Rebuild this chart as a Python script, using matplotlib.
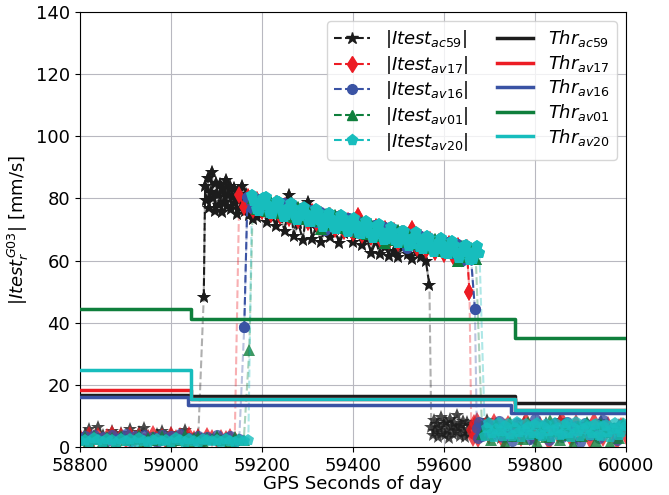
import numpy as np
import matplotlib.pyplot as plt
from matplotlib.lines import Line2D

# ---- |Itest| values, in segments: (start epoch [s], spacing [s], values) ----
ac59_low1 = [3.5, 4.2, 5.8, 3.1, 6.4, 4.0, 2.8, 5.1, 3.6, 4.4, 2.9, 5.7, 3.2, 4.8,
             6.1, 3.4, 2.6, 4.1, 5.2, 3.0, 4.6, 2.7, 3.9, 5.5, 3.3, 2.5, 3.8]
ac59_jump = [48.3]
ac59_burst = [84.0, 79.5, 86.5, 77.0, 82.0, 88.5, 80.0, 76.0, 85.0, 81.5, 78.0, 84.5,
              75.5, 83.0, 79.0, 86.0, 77.5, 81.0, 84.0, 76.5, 80.5, 83.5, 78.5, 75.0,
              82.5, 79.5, 77.0, 84.0, 80.0, 76.0, 81.5, 78.0, 74.5, 79.0, 76.5, 73.5]
ac59_high = [74.0, 78.5, 72.5, 76.0, 71.0, 74.5, 69.5, 81.0, 68.0, 72.0, 66.5, 79.0,
             67.0, 70.5, 66.0, 72.0, 67.5, 70.0, 65.5, 69.0, 71.0, 66.0, 68.5, 65.0,
             67.0, 62.5, 66.0, 62.0, 64.5, 61.5, 63.0, 61.0, 64.5, 62.0, 60.5, 63.0,
             61.0, 60.0]
ac59_drop = [52.0]
ac59_low2a = [6.5, 4.0, 8.7, 5.3, 7.5, 3.1, 6.0, 9.5, 4.5, 7.3, 3.7, 8.1, 5.5, 2.9,
              9.0, 6.7, 4.3, 7.7, 5.0, 10.2, 6.3, 3.5, 7.0, 8.5, 4.7, 3.3, 7.9, 5.8,
              4.1, 6.9]
ac59_low2b = [7.5, 3.1, 6.0, 8.6, 4.2, 5.4, 2.9, 7.0, 4.7, 6.2, 3.6, 8.2, 5.0, 2.4,
              6.8, 4.5, 7.6, 3.3, 5.9, 8.8, 4.0, 6.4, 2.7, 5.2, 4.9, 7.3, 3.9, 6.1,
              8.4, 4.6, 5.7, 3.4, 7.1, 5.0]
ac59_segs = [(58800, 10, ac59_low1), (59072, 10, ac59_jump), (59075, 3, ac59_burst),
             (59190, 10, ac59_high), (59568, 10, ac59_drop), (59572, 3, ac59_low2a),
             (59665, 10, ac59_low2b)]

av17_low1 = [3.2, 2.1, 4.0, 2.8, 3.6, 1.9, 3.1, 4.3, 2.5, 3.4, 2.2, 3.9, 2.7, 3.5,
             1.8, 3.0, 4.1, 2.4, 3.3, 2.0, 3.7, 2.9, 3.4, 2.3, 3.8, 2.6, 3.1, 1.9,
             3.5, 2.8, 2.2, 3.0, 2.5, 3.3, 2.1]
av17_high = [81.0, 77.1, 80.3, 76.4, 79.6, 75.8, 78.9, 75.1, 78.2, 74.4, 77.6, 73.7,
             76.9, 73.0, 76.2, 72.4, 75.5, 71.7, 74.8, 71.0, 74.2, 70.3, 73.5, 69.6,
             72.8, 69.0, 74.4, 68.3, 71.4, 67.6, 70.8, 66.9, 70.1, 66.2, 69.4, 65.6,
             68.7, 64.9, 70.3, 64.2, 67.4, 63.5, 66.7, 62.8, 66.0, 62.2, 65.3, 61.5,
             64.6, 60.8, 63.9]
av17_drop = [50.0]
av17_low2a = [5.5, 3.0, 7.8, 4.2, 8.5, 2.5, 6.5]
av17_low2b = [6.9, 3.5, 8.1, 5.2, 1.8, 7.4, 4.1, 6.0, 2.9, 8.5, 5.6, 3.2, 7.0, 4.4,
              1.5, 6.5, 3.8, 8.8, 5.0, 2.6, 7.7, 4.3, 6.2, 2.1, 8.3, 5.4, 3.0, 7.2,
              4.6, 1.9, 6.7, 3.6]
av17_segs = [(58800, 10, av17_low1), (59150, 10, av17_high), (59656, 10, av17_drop),
             (59660, 3, av17_low2a), (59690, 10, av17_low2b)]

av16_low1 = [2.9, 3.6, 2.2, 4.0, 2.7, 3.3, 1.8, 3.8, 2.5, 3.1, 4.2, 2.0, 3.5, 2.8,
             3.9, 2.3, 3.2, 1.7, 3.7, 2.6, 3.4, 2.1, 4.1, 2.9, 3.0, 2.4, 3.6, 1.9,
             3.3, 2.7, 3.8, 2.2, 2.9, 3.4, 2.0, 2.6]
av16_jump = [38.7]
av16_high = [80.5, 77.0, 79.9, 76.4, 79.2, 75.8, 78.6, 75.2, 78.5, 74.3, 77.6, 73.9,
             76.8, 73.0, 76.2, 72.4, 75.5, 69.8, 74.9, 71.0, 74.2, 70.5, 73.6, 69.8,
             72.8, 69.2, 72.1, 68.4, 71.5, 67.9, 70.8, 67.0, 70.1, 66.5, 69.4, 64.0,
             68.7, 65.1, 68.0, 64.4, 67.3, 63.8, 66.6, 63.0, 65.9, 62.4, 65.2, 60.0,
             64.6, 63.5]
av16_drop = [44.3]
av16_low2a = [6.0, 2.8, 8.0, 4.5, 3.5, 7.2, 5.0]
av16_low2b = [7.1, 4.0, 8.4, 3.3, 6.2, 1.9, 7.8, 4.7, 5.9, 2.5, 8.9, 3.9, 6.6, 2.2,
              7.4, 5.0, 3.1, 8.1, 4.4, 6.8, 1.6, 7.6, 3.7, 5.5, 2.9, 8.6, 4.9, 6.0,
              2.4, 7.2]
av16_segs = [(58800, 10, av16_low1), (59161, 10, av16_jump), (59168, 10, av16_high),
             (59668, 10, av16_drop), (59672, 3, av16_low2a), (59700, 10, av16_low2b)]

av01_low1 = [2.4, 3.1, 1.9, 3.5, 2.6, 2.0, 3.3, 2.8, 1.7, 3.6, 2.2, 3.0, 2.5, 3.8,
             1.8, 2.9, 3.2, 2.1, 3.4, 2.7, 1.9, 3.1, 2.4, 3.7, 2.0, 2.8, 3.3, 1.6,
             3.0, 2.5, 3.5, 2.2, 2.9, 1.8, 3.2, 2.6, 2.3]
av01_jump = [31.2]
av01_high = [80.1, 76.5, 79.6, 75.9, 78.8, 75.4, 78.3, 74.8, 77.9, 74.0, 77.2, 73.5,
             76.4, 72.6, 75.8, 70.0, 75.1, 71.3, 74.5, 70.6, 73.8, 70.0, 73.2, 69.3,
             72.4, 68.7, 71.7, 68.0, 71.0, 65.6, 70.4, 66.6, 69.7, 66.0, 69.0, 65.2,
             68.3, 64.6, 67.6, 64.0, 66.9, 63.2, 66.2, 62.6, 65.5, 59.8, 64.8, 61.2,
             64.1, 60.6]
av01_low2 = [4.2, 6.8, 2.1, 7.5, 5.0, 1.2, 8.2, 3.6, 6.1, 2.7, 7.9, 4.5, 1.5, 6.4,
             3.1, 8.6, 5.3, 2.3, 7.1, 4.0, 1.0, 6.7, 3.4, 8.0, 5.6, 2.0, 7.3, 4.8,
             1.4, 6.0, 3.0, 7.7]
av01_segs = [(58800, 10, av01_low1), (59172, 10, av01_jump), (59180, 10, av01_high),
             (59684, 10, av01_low2)]

av20_low1 = [1.8, 2.4, 1.5, 2.9, 2.1, 1.6, 2.7, 2.2, 1.4, 2.6, 1.9, 2.5, 1.7, 2.8,
             2.0, 1.5, 2.3, 2.7, 1.8, 2.4, 1.6, 2.9, 2.1, 1.7, 2.5, 2.0, 1.4, 2.6,
             2.2, 1.8, 2.4, 1.5, 2.7, 2.0, 1.6, 2.3, 1.9, 2.1]
av20_high = [81.2, 79.1, 76.7, 76.0, 77.9, 80.0, 80.3, 77.9, 75.4, 75.1,
             77.2, 79.2, 78.7, 76.2, 74.0, 74.7, 76.9, 78.5, 76.9, 74.5,
             72.9, 74.2, 76.5, 77.3, 74.9, 72.5, 72.4, 74.6, 76.5, 75.5,
             72.9, 70.9, 72.1, 74.3, 75.2, 73.5, 70.8, 70.2, 72.3, 74.6,
             73.8, 71.2, 69.2, 70.4, 72.6, 73.8, 71.4, 68.8, 68.5, 70.8,
             72.6, 71.6, 69.0, 67.2, 68.7, 71.1, 71.7, 69.2, 66.7, 67.0,
             69.2, 70.9, 69.3, 66.7, 65.5, 67.3, 69.5, 69.6, 67.0, 64.6,
             65.4, 67.6, 69.2, 67.2, 64.5, 63.8, 66.1, 68.0, 67.2, 64.7,
             62.6, 63.8, 66.1, 67.2, 65.0, 62.4, 62.0, 64.5, 66.2, 65.0,
             62.3, 60.8, 62.6, 64.8, 65.1, 62.6, 60.2, 60.6, 63.1, 64.6,
             62.5]
av20_low2 = [3.6, 6.2, 7.6, 4.4, 3.2, 5.8, 7.8, 5.0, 3.4, 6.6,
             7.4, 4.1, 3.5, 6.0, 7.9, 4.8, 3.3, 5.5, 7.5, 6.3,
             3.8, 4.6, 7.1, 7.7, 4.2, 3.4, 6.4, 7.3, 5.2, 3.1,
             5.6, 7.8, 6.0, 3.7, 4.3, 7.0, 7.6, 4.5, 3.3, 6.1,
             7.9, 5.3, 3.5, 5.9, 7.4, 6.5, 3.9, 4.4, 7.2, 7.5,
             4.0, 3.6, 6.8, 7.1, 4.9, 3.2, 5.7, 7.7, 6.2, 3.8,
             4.7, 7.3, 6.6]
av20_segs = [(58800, 10, av20_low1), (59178, 5, av20_high), (59690, 5, av20_low2)]

# ---- thresholds (step functions) ----
thr_t = [58800, 59045, 59755, 60000]
thr_t_av16 = [58800, 59038, 59748, 60000]
ac59_thr = [16.8, 16.5, 14.0]
av17_thr = [18.3, 15.4, 12.0]
av16_thr = [16.0, 13.4, 10.8]
av01_thr = [44.3, 41.2, 35.2]
av20_thr = [24.8, 15.4, 12.0]

names = ['ac59', 'av17', 'av16', 'av01', 'av20']
colors = ['#1c1c1c', '#ec1c24', '#3a53a4', '#0f7f3c', '#17bdbd']
markers = ['*', 'd', 'o', '^', 'p']
msizes = [10, 9, 8, 8, 9]


def build(segs):
    t = np.concatenate([t0 + dt * np.arange(len(v)) for t0, dt, v in segs])
    y = np.concatenate([np.asarray(v, dtype=float) for _, _, v in segs])
    o = np.argsort(t, kind='stable')
    return t[o], y[o]


def thr_at(t, bt, bv):
    idx = np.searchsorted(bt, t, side='right') - 1
    return np.asarray(bv)[np.clip(idx, 0, len(bv) - 1)]


data = [build(s) for s in (ac59_segs, av17_segs, av16_segs, av01_segs, av20_segs)]
thr_times = [thr_t, thr_t, thr_t_av16, thr_t, thr_t]
thr_vals = [ac59_thr, av17_thr, av16_thr, av01_thr, av20_thr]

fig = plt.figure(figsize=(6.69, 4.95), dpi=100)
ax = fig.add_axes([0.1196, 0.097, 0.8161, 0.8788])
ax.set_axisbelow(True)
ax.grid(True, color='#b8b8c0', lw=0.8)

itest_handles = []
for name, c, m, ms, (t, y), bt, bv in zip(names, colors, markers, msizes, data,
                                          thr_times, thr_vals):
    flag = y > thr_at(t, bt, bv)
    yd = np.where(flag, y, np.nan)
    # all samples, faded
    ax.plot(t, y, ls='--', color=c, lw=1.5, alpha=0.35, zorder=2)
    ax.plot(t, y, ls='none', marker=m, color=c, ms=ms, mew=0, alpha=0.8,
            antialiased=False, zorder=2)
    # samples above threshold, full colour
    ax.plot(t, yd, ls='--', color=c, lw=1.5, zorder=3)
    ax.plot(t, yd, ls='none', marker=m, color=c, ms=ms, mew=0,
            antialiased=False, zorder=3)
    itest_handles.append(Line2D([], [], ls='--', lw=1.5, color=c, marker=m,
                                ms=ms - 1, label=r'$|Itest_{%s}|$' % name))

thr_handles = []
for name, c, bt, bv in zip(names, colors, thr_times, thr_vals):
    h, = ax.step(bt, bv + [bv[-1]], where='post', color=c, lw=2.5, zorder=4,
                 label=r'$Thr_{%s}$' % name)
    thr_handles.append(h)

ax.set_xlim(58800, 60000)
ax.set_ylim(0, 140)
ax.set_xticks(np.arange(58800, 60001, 200))
ax.set_yticks(np.arange(0, 141, 20))
ax.tick_params(labelsize=13)
ax.set_xlabel('GPS Seconds of day', fontsize=13, labelpad=0)
ax.set_ylabel(r'$|Itest_r^{G03}|$ [mm/s]', fontsize=13)
ax.legend(handles=itest_handles + thr_handles, ncol=2, loc='upper right',
          fontsize=13, labelspacing=0.2, handlelength=2.0, columnspacing=1.6)

fig.savefig('out.png', dpi=100)
